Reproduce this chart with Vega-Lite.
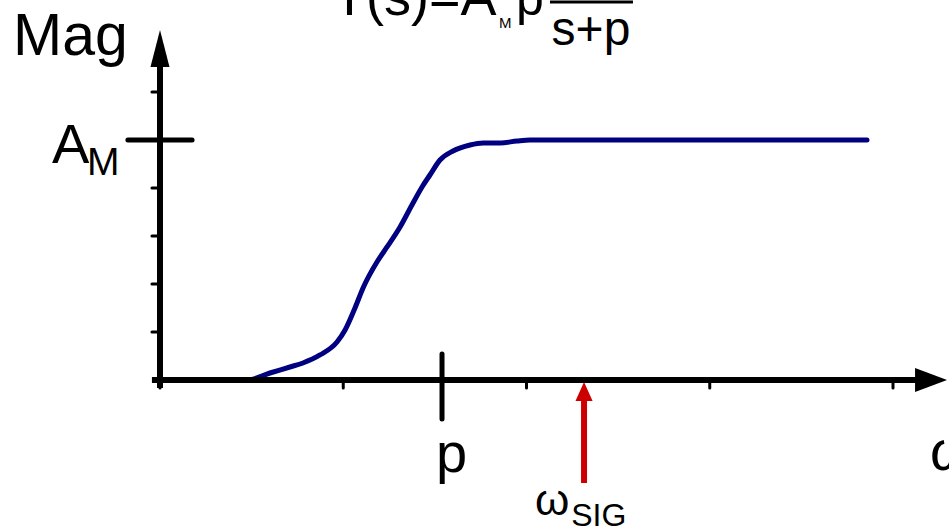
{
  "$schema": "https://vega.github.io/schema/vega-lite/v6.json",
  "width": 949,
  "height": 530,
  "autosize": {"type": "none"},
  "padding": 0,
  "background": "white",
  "config": {"view": {"stroke": null}, "text": {"font": "Liberation Sans", "color": "black"}},
  "datasets": {
    "response": [
      {"omega": 0.0, "mag": 0.0},
      {"omega": 0.48, "mag": 0.0},
      {"omega": 0.6, "mag": 0.146},
      {"omega": 0.709, "mag": 0.271},
      {"omega": 0.78, "mag": 0.354},
      {"omega": 0.873, "mag": 0.521},
      {"omega": 0.966, "mag": 0.792},
      {"omega": 1.01, "mag": 1.042},
      {"omega": 1.064, "mag": 1.5},
      {"omega": 1.108, "mag": 1.917},
      {"omega": 1.184, "mag": 2.458},
      {"omega": 1.239, "mag": 2.771},
      {"omega": 1.31, "mag": 3.188},
      {"omega": 1.375, "mag": 3.646},
      {"omega": 1.43, "mag": 4.021},
      {"omega": 1.473, "mag": 4.271},
      {"omega": 1.528, "mag": 4.583},
      {"omega": 1.599, "mag": 4.771},
      {"omega": 1.692, "mag": 4.896},
      {"omega": 1.763, "mag": 4.938},
      {"omega": 1.855, "mag": 4.938},
      {"omega": 1.948, "mag": 4.979},
      {"omega": 2.019, "mag": 5.0},
      {"omega": 3.858, "mag": 5.0}
    ],
    "axisLines": [
      {"omega": -0.044, "mag": 0.0, "omega2": 4.15, "mag2": 0.0},
      {"omega": 0.0, "mag": -0.167, "omega2": 0.0, "mag2": 6.55}
    ],
    "minorTicks": [
      {"omega": 0, "mag": 0, "omega2": 0, "mag2": -0.167},
      {"omega": 1, "mag": 0, "omega2": 1, "mag2": -0.167},
      {"omega": 2, "mag": 0, "omega2": 2, "mag2": -0.167},
      {"omega": 3, "mag": 0, "omega2": 3, "mag2": -0.167},
      {"omega": 4, "mag": 0, "omega2": 4, "mag2": -0.167},
      {"omega": -0.044, "mag": 1, "omega2": 0, "mag2": 1},
      {"omega": -0.044, "mag": 2, "omega2": 0, "mag2": 2},
      {"omega": -0.044, "mag": 3, "omega2": 0, "mag2": 3},
      {"omega": -0.044, "mag": 4, "omega2": 0, "mag2": 4},
      {"omega": -0.044, "mag": 6, "omega2": 0, "mag2": 6}
    ],
    "markers": [
      {"name": "A_M", "omega": -0.175, "mag": 5.0, "omega2": 0.175, "mag2": 5.0},
      {"name": "p", "omega": 1.539, "mag": 0.542, "omega2": 1.539, "mag2": -0.8125}
    ],
    "sigShaft": [
      {"omega": 2.314, "mag": -0.4375, "omega2": 2.314, "mag2": -2.146}
    ],
    "fractionBar": [
      {"omega": 2.128, "mag": 7.875, "omega2": 2.581, "mag2": 7.875}
    ],
    "upTips": [{"omega": 0.0, "mag": 7.292}],
    "rightTips": [{"omega": 4.295, "mag": 0.0}],
    "sigTip": [{"omega": 2.314, "mag": -0.042}],
    "bigLabels": [
      {"omega": -0.589, "mag": 4.521, "label": "A"},
      {"omega": 1.506, "mag": -1.917, "label": "p"},
      {"omega": 4.202, "mag": -1.875, "label": "ω"}
    ],
    "yName": [{"omega": -0.802, "mag": 6.771, "label": "Mag"}],
    "amSub": [{"omega": -0.398, "mag": 4.271, "label": "M"}],
    "sigOmega": [{"omega": 2.046, "mag": -2.8125, "label": "ω"}],
    "sigSub": [{"omega": 2.244, "mag": -3.042, "label": "SIG"}],
    "formulaMain": [{"omega": 0.944, "mag": 7.604, "label": "T(s)=A"}],
    "formulaSub": [{"omega": 1.85, "mag": 7.333, "label": "M"}],
    "formulaP": [{"omega": 1.943, "mag": 7.604, "label": "p"}],
    "formulaDen": [{"omega": 2.137, "mag": 6.979, "label": "s+p"}]
  },
  "encoding": {
    "x": {"field": "omega", "type": "quantitative", "scale": {"domain": [-0.8731, 4.3056], "nice": false, "zero": false}, "axis": null},
    "y": {"field": "mag", "type": "quantitative", "scale": {"domain": [-3.125, 7.9167], "nice": false, "zero": false}, "axis": null}
  },
  "layer": [
    {
      "data": {"name": "response"},
      "mark": {"type": "line", "color": "#000080", "strokeWidth": 5, "strokeCap": "round", "strokeJoin": "round", "interpolate": "monotone"}
    },
    {
      "data": {"name": "axisLines"},
      "mark": {"type": "rule", "color": "black", "strokeWidth": 6},
      "encoding": {"x2": {"field": "omega2"}, "y2": {"field": "mag2"}}
    },
    {
      "data": {"name": "minorTicks"},
      "mark": {"type": "rule", "color": "black", "strokeWidth": 3, "strokeCap": "round"},
      "encoding": {"x2": {"field": "omega2"}, "y2": {"field": "mag2"}}
    },
    {
      "data": {"name": "markers"},
      "mark": {"type": "rule", "color": "black", "strokeWidth": 5, "strokeCap": "round"},
      "encoding": {"x2": {"field": "omega2"}, "y2": {"field": "mag2"}}
    },
    {
      "data": {"name": "sigShaft"},
      "mark": {"type": "rule", "color": "#cc0000", "strokeWidth": 6},
      "encoding": {"x2": {"field": "omega2"}, "y2": {"field": "mag2"}}
    },
    {
      "data": {"name": "fractionBar"},
      "mark": {"type": "rule", "color": "black", "strokeWidth": 3},
      "encoding": {"x2": {"field": "omega2"}, "y2": {"field": "mag2"}}
    },
    {
      "data": {"name": "upTips"},
      "mark": {"type": "point", "shape": "M0,0L0.514,2L-0.514,2Z", "size": 1369, "filled": true, "color": "black", "opacity": 1, "strokeWidth": 0}
    },
    {
      "data": {"name": "rightTips"},
      "mark": {"type": "point", "shape": "M0,0L-2,-0.75L-2,0.75Z", "size": 1024, "filled": true, "color": "black", "opacity": 1, "strokeWidth": 0}
    },
    {
      "data": {"name": "sigTip"},
      "mark": {"type": "point", "shape": "M0,0L0.9,2L-0.9,2Z", "size": 361, "filled": true, "color": "#cc0000", "opacity": 1, "strokeWidth": 0}
    },
    {
      "data": {"name": "yName"},
      "mark": {"type": "text", "fontSize": 59, "align": "left", "baseline": "alphabetic"},
      "encoding": {"text": {"field": "label"}}
    },
    {
      "data": {"name": "bigLabels"},
      "mark": {"type": "text", "fontSize": 56, "align": "left", "baseline": "alphabetic"},
      "encoding": {"text": {"field": "label"}}
    },
    {
      "data": {"name": "amSub"},
      "mark": {"type": "text", "fontSize": 39, "align": "left", "baseline": "alphabetic"},
      "encoding": {"text": {"field": "label"}}
    },
    {
      "data": {"name": "sigOmega"},
      "mark": {"type": "text", "fontSize": 44, "align": "left", "baseline": "alphabetic"},
      "encoding": {"text": {"field": "label"}}
    },
    {
      "data": {"name": "sigSub"},
      "mark": {"type": "text", "fontSize": 32, "align": "left", "baseline": "alphabetic"},
      "encoding": {"text": {"field": "label"}}
    },
    {
      "data": {"name": "formulaMain"},
      "mark": {"type": "text", "fontSize": 54, "align": "left", "baseline": "alphabetic"},
      "encoding": {"text": {"field": "label"}}
    },
    {
      "data": {"name": "formulaSub"},
      "mark": {"type": "text", "fontSize": 15, "align": "left", "baseline": "alphabetic"},
      "encoding": {"text": {"field": "label"}}
    },
    {
      "data": {"name": "formulaP"},
      "mark": {"type": "text", "fontSize": 50, "align": "left", "baseline": "alphabetic"},
      "encoding": {"text": {"field": "label"}}
    },
    {
      "data": {"name": "formulaDen"},
      "mark": {"type": "text", "fontSize": 48, "align": "left", "baseline": "alphabetic"},
      "encoding": {"text": {"field": "label"}}
    }
  ]
}
